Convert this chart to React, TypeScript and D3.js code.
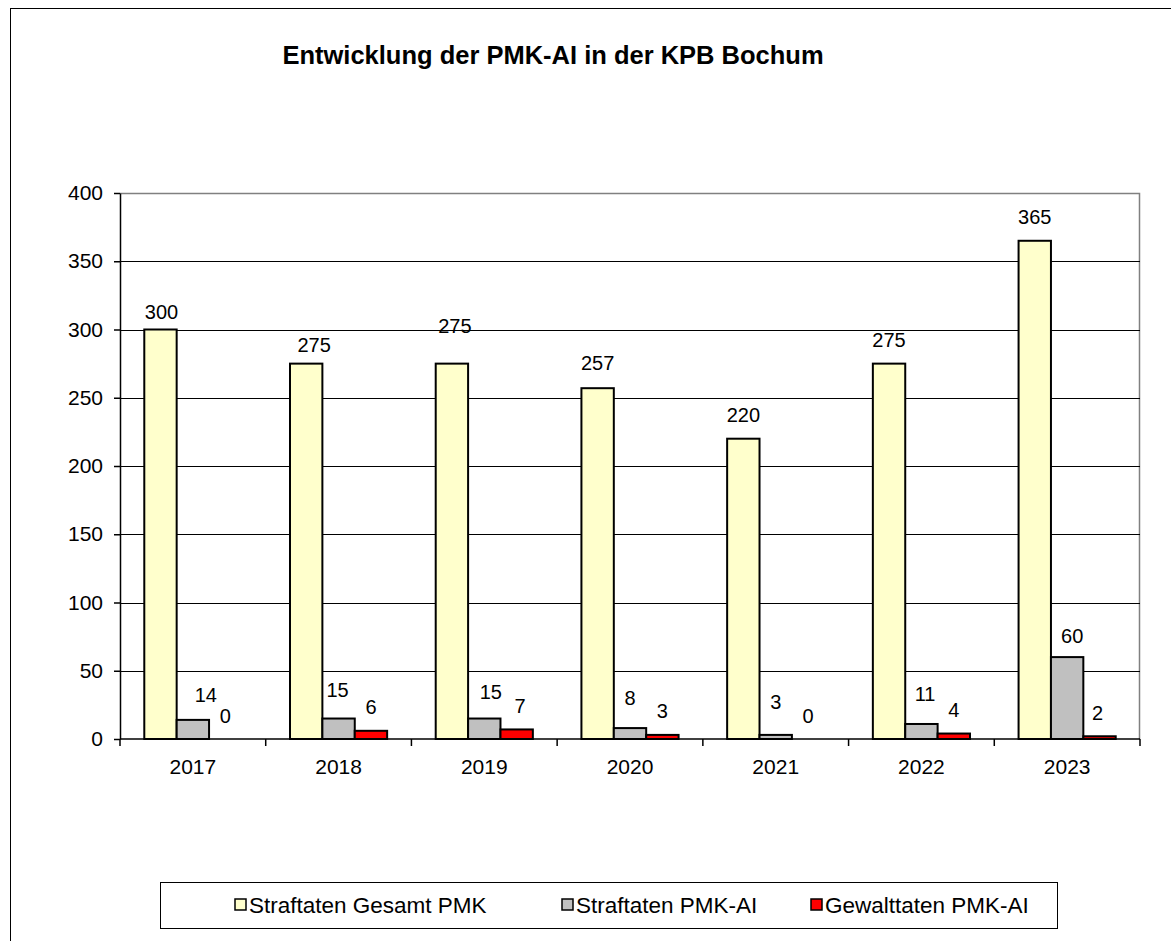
import React, { useEffect, useRef } from 'react';
import * as d3 from 'd3';

// chart data
const years = ['2017', '2018', '2019', '2020', '2021', '2022', '2023'];
const seriesNames = ['Straftaten Gesamt PMK', 'Straftaten PMK-AI', 'Gewalttaten PMK-AI'];
const gesamtPMK = [300, 275, 275, 257, 220, 275, 365];
const straftatenAI = [14, 15, 15, 8, 3, 11, 60];
const gewalttatenAI = [0, 6, 7, 3, 0, 4, 2];
const yTicks = [0, 50, 100, 150, 200, 250, 300, 350, 400];

// labels were hand-moved in the original; small pixel nudges [dx, dy]
const gesamtNudge = [[1, 6], [8, 4.5], [3, -14.5], [0, -1.5], [0, 0], [0, 0], [0, 0]];
const straftatenNudge = [[13, -1.5], [-1, -5.5], [6.6, -3.5], [0, -6.5], [0, -9], [3.6, -6.5], [5, 2.5]];
const gewaltNudge = [[0, 0], [0, 0], [3.4, 0], [0, 0], [0, 0], [0, 0], [-2, 0]];

const colors = ['#FFFFCC', '#C0C0C0', '#FF0000'];
const FONT = '"Liberation Sans", Arial, sans-serif';

export default function App() {
    const ref = useRef<SVGSVGElement>(null);

    useEffect(() => {
        const svg = d3.select(ref.current);
        svg.selectAll('*').remove();

        const W = 1171, H = 941;
        const plot = { left: 120, right: 1140, top: 193, bottom: 739 };

        svg.append('rect').attr('width', W).attr('height', H).attr('fill', '#fff');
        // chart area border (runs off the right/bottom of the picture)
        svg.append('rect')
            .attr('x', 10.5).attr('y', 8.5)
            .attr('width', W + 20).attr('height', H + 20)
            .attr('fill', 'none').attr('stroke', '#000').attr('stroke-width', 1);

        svg.append('text')
            .attr('x', 553).attr('y', 64)
            .attr('text-anchor', 'middle')
            .style('font-family', FONT).style('font-size', '25.5px').style('font-weight', 'bold')
            .text('Entwicklung der PMK-AI in der KPB Bochum');

        const x0 = d3.scaleBand()
            .domain(years)
            .range([plot.left, plot.right])
            .paddingInner(1 / 3)
            .paddingOuter(1 / 6);
        const x1 = d3.scaleBand()
            .domain(seriesNames)
            .range([0, x0.bandwidth()]);
        const y = d3.scaleLinear().domain([0, 400]).range([plot.bottom, plot.top]);

        // plot area border (grey, top + right)
        svg.append('path')
            .attr('d', `M${plot.left},${plot.top + 0.5}H${plot.right - 0.5}V${plot.bottom}`)
            .attr('fill', 'none').attr('stroke', '#808080').attr('stroke-width', 1.5);

        // gridlines
        svg.append('g').selectAll('line')
            .data(yTicks.filter(d => d > 0 && d < 400))
            .enter().append('line')
            .attr('x1', plot.left).attr('x2', plot.right)
            .attr('y1', d => Math.round(y(d)) + 0.5).attr('y2', d => Math.round(y(d)) + 0.5)
            .attr('stroke', '#000').attr('stroke-width', 1);

        const series = [gesamtPMK, straftatenAI, gewalttatenAI];
        const nudges = [gesamtNudge, straftatenNudge, gewaltNudge];

        series.forEach((vals, s) => {
            const g = svg.append('g');
            g.selectAll('rect')
                .data(vals)
                .enter().append('rect')
                .attr('x', (d, i) => (x0(years[i]) as number) + (x1(seriesNames[s]) as number))
                .attr('y', d => y(d))
                .attr('width', x1.bandwidth())
                .attr('height', d => plot.bottom - y(d))
                .attr('fill', colors[s])
                .attr('stroke', '#000')
                .attr('stroke-width', 2);

            g.selectAll('text')
                .data(vals)
                .enter().append('text')
                .attr('x', (d, i) => (x0(years[i]) as number) + (x1(seriesNames[s]) as number) + x1.bandwidth() / 2 + nudges[s][i][0])
                .attr('y', (d, i) => y(d) - 16.5 + nudges[s][i][1])
                .attr('text-anchor', 'middle')
                .style('font-family', FONT).style('font-size', '20px')
                .attr('fill', '#000')
                .text(d => d);
        });

        // y axis
        const yAxis = svg.append('g').attr('transform', `translate(${plot.left},0)`)
            .call(d3.axisLeft(y).tickValues(yTicks).tickSize(6).tickPadding(11).tickSizeOuter(0));
        yAxis.select('.domain').attr('stroke', '#000').attr('stroke-width', 1.5);
        yAxis.selectAll('.tick line').attr('stroke', '#000').attr('stroke-width', 1.5);
        yAxis.selectAll('.tick text')
            .style('font-family', FONT).style('font-size', '21px').attr('fill', '#000');

        // x axis: ticks at category boundaries
        const xg = svg.append('g');
        xg.append('line')
            .attr('x1', plot.left).attr('x2', plot.right)
            .attr('y1', plot.bottom).attr('y2', plot.bottom)
            .attr('stroke', '#000').attr('stroke-width', 1.5);
        const step = x0.step();
        xg.selectAll('.bt')
            .data(d3.range(years.length + 1))
            .enter().append('line')
            .attr('x1', i => plot.left + i * step).attr('x2', i => plot.left + i * step)
            .attr('y1', plot.bottom).attr('y2', plot.bottom + 7)
            .attr('stroke', '#000').attr('stroke-width', 1.5);
        xg.selectAll('text')
            .data(years)
            .enter().append('text')
            .attr('x', d => (x0(d) as number) + x0.bandwidth() / 2)
            .attr('y', plot.bottom + 35)
            .attr('text-anchor', 'middle')
            .style('font-family', FONT).style('font-size', '21px')
            .text(d => d);

        // legend
        const lg = svg.append('g');
        lg.append('rect')
            .attr('x', 160.5).attr('y', 882.5).attr('width', 897).attr('height', 46)
            .attr('fill', '#fff').attr('stroke', '#000').attr('stroke-width', 1);
        const legendX = [235, 562, 811];
        seriesNames.forEach((name, i) => {
            lg.append('rect')
                .attr('x', legendX[i]).attr('y', 899)
                .attr('width', 11).attr('height', 11)
                .attr('fill', colors[i]).attr('stroke', '#000').attr('stroke-width', 1.5);
            lg.append('text')
                .attr('x', legendX[i] + 14).attr('y', 913)
                .style('font-family', FONT).style('font-size', '22.5px')
                .text(name);
        });
    }, []);

    return (
        <svg ref={ref} width={1171} height={941}
            style={{ position: 'absolute', left: 0, top: 0 }} />
    );
}
